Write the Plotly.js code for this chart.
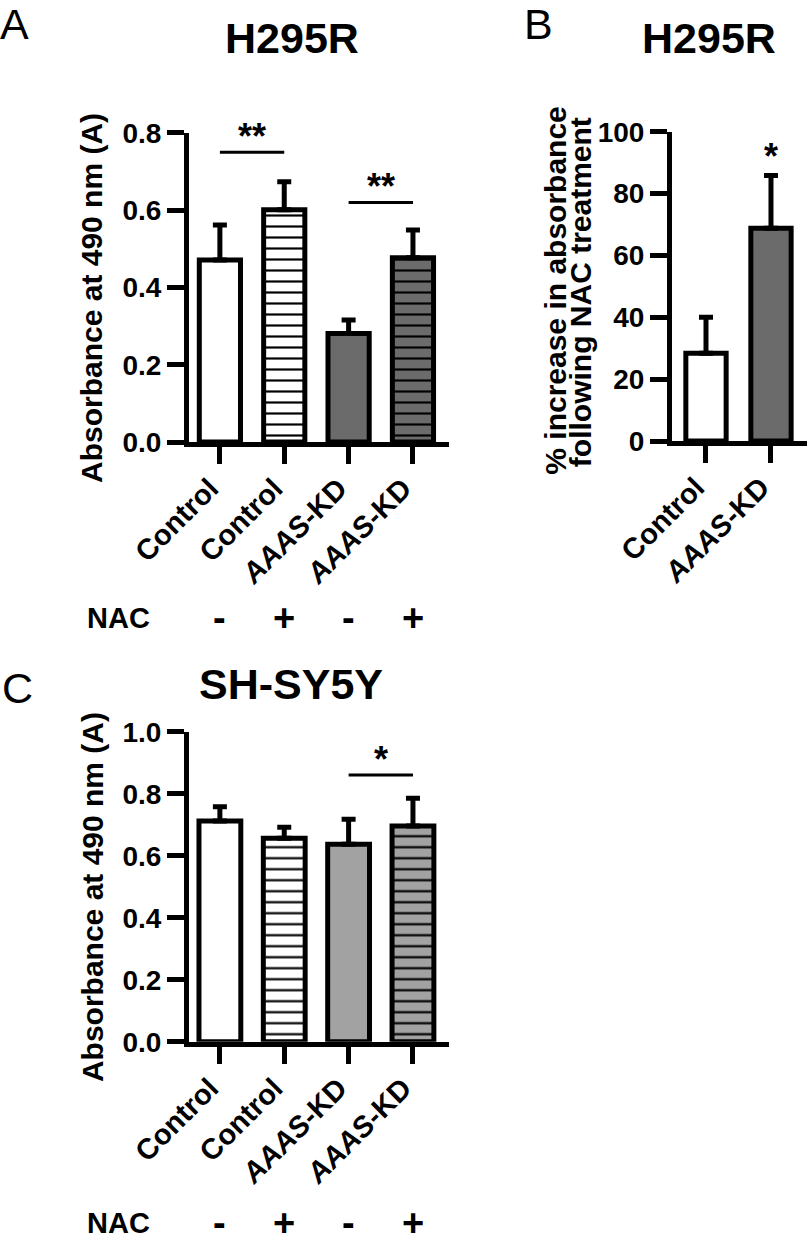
<!DOCTYPE html>
<html><head><meta charset="utf-8">
<script src="https://cdn.plot.ly/plotly-3.0.1.min.js"></script>
<style>html,body{margin:0;padding:0;background:#fff}</style>
</head><body><div id="chart" style="width:810px;height:1252px"></div>
<script>
// ---- data ----
const groups4 = ['Control', 'Control', '<i>AAAS</i>-KD', '<i>AAAS</i>-KD'];
const nacSigns = ['-', '+', '-', '+'];
const groups2 = ['Control', '<i>AAAS</i>-KD'];

const meanA = [0.471, 0.601, 0.281, 0.477];
const errA  = [0.091, 0.073, 0.035, 0.072];

const meanB = [28.4, 68.8];
const errB  = [11.6, 17.0];

const meanC = [0.712, 0.656, 0.637, 0.696];
const errC  = [0.046, 0.036, 0.081, 0.089];

const sigA = [{from: 0, to: 1, y: 0.75, text: '**'}, {from: 2, to: 3, y: 0.62, text: '**'}];
const sigB = [{at: 1, text: '*'}];
const sigC = [{from: 2, to: 3, y: 0.86, text: '*'}];

// ---- styles ----
const DARK_A = '#6b6b6b';
const GRAY_C = '#a2a2a2';
const FONT = 'Liberation Sans, Arial, sans-serif';
const fillsA = ['#ffffff', '#ffffff', DARK_A, DARK_A];
const fillsB = ['#ffffff', DARK_A];
const fillsC = ['#ffffff', '#ffffff', GRAY_C, GRAY_C];
const stripes4 = [false, true, false, true];
const stripes2 = [false, false];

function barTraces(y, err, fills, stripes, xa, ya, w) {
  return y.map((v, i) => {
    const t = {
      type: 'bar', x: [i], y: [v], width: w, xaxis: xa, yaxis: ya,
      marker: {color: fills[i], line: {color: '#000', width: 5}},
      error_y: {type: 'data', symmetric: false, array: [err[i]], arrayminus: [0],
                color: '#000', thickness: 5, width: 7},
      hoverinfo: 'skip', showlegend: false
    };
    if (stripes[i]) {
      t.marker.pattern = {shape: '-', fgcolor: '#000000', bgcolor: fills[i], size: 11,
                          solidity: 0.2, fillmode: 'replace'};
    }
    return t;
  });
}

const traces = [].concat(
  barTraces(meanA, errA, fillsA, stripes4, 'x', 'y', 0.64),
  barTraces(meanB, errB, fillsB, stripes2, 'x2', 'y2', 0.62),
  barTraces(meanC, errC, fillsC, stripes4, 'x3', 'y3', 0.65)
);

const tickFont = {family: FONT, size: 29, weight: 'bold', color: '#000'};
const titleAxFont = {family: FONT, size: 30, weight: 'bold', color: '#000'};

function bold(s) { return '<b>' + s + '</b>'; }

function xax(domain, range, vals, text, anchor) {
  return {domain: domain, range: range, anchor: anchor, tickvals: vals, ticktext: text.map(bold), tickangle: -45,
    ticks: 'outside', ticklen: 17, tickwidth: 5, tickcolor: '#000',
    ticklabelshift: -10, ticklabelstandoff: -4,
    showline: true, linewidth: 5, linecolor: '#000', showgrid: false, zeroline: false, fixedrange: true,
    tickfont: tickFont};
}
function yax(domain, range, dtick, fmt, anchor) {
  return {domain: domain, range: range, anchor: anchor, dtick: dtick, tick0: 0, tickformat: fmt,
    ticks: 'outside', ticklen: 17, tickwidth: 5, tickcolor: '#000',
    showline: true, linewidth: 5, linecolor: '#000', showgrid: false, zeroline: false, fixedrange: true,
    tickfont: {family: FONT, size: 28, weight: 'bold', color: '#000'}};
}

const starFont = {family: FONT, size: 36, weight: 'bold', color: '#000'};
const shapes = [];
const annotations = [];
function addSig(list, xa, ya) {
  list.forEach(s => {
    shapes.push({type: 'line', xref: xa, yref: ya, x0: s.from, x1: s.to, y0: s.y, y1: s.y,
                 line: {color: '#000', width: 3}});
    annotations.push({xref: xa, yref: ya, x: (s.from + s.to) / 2, y: s.y, text: bold(s.text), showarrow: false,
                      yanchor: 'middle', yshift: 16, font: starFont});
  });
}
addSig(sigA, 'x', 'y');
addSig(sigC, 'x3', 'y3');
sigB.forEach(s => {
  annotations.push({xref: 'x2', yref: 'y2', x: s.at, y: meanB[s.at] + errB[s.at], text: bold(s.text), showarrow: false,
                    yanchor: 'middle', yshift: 19, font: starFont});
});

function txt(x, y, text, font, extra) {
  return Object.assign({xref: 'paper', yref: 'paper', x: x, y: y, text: text, showarrow: false,
    xanchor: 'center', yanchor: 'middle', font: font}, extra || {});
}
const letterFont = {family: FONT, size: 43, color: '#000'};
const titleFont = {family: FONT, size: 43, weight: 'bold', color: '#000'};

annotations.push(
  txt(0.0185, 0.9808, 'A', letterFont),
  txt(0.6642, 0.9808, 'B', letterFont),
  txt(0.021, 0.4505, 'C', letterFont),
  txt(0.3599, 0.9697, bold('H295R'), titleFont),
  txt(0.8747, 0.9697, bold('H295R'), titleFont),
  txt(0.3593, 0.4533, bold('SH-SY5Y'), titleFont),
  txt(0.1136, 0.762, bold('Absorbance at 490 nm (A)'), titleAxFont, {textangle: -90}),
  txt(0.1136, 0.2835, bold('Absorbance at 490 nm (A)'), titleAxFont, {textangle: -90}),
  txt(0.6855, 0.768, bold('% increase in absorbance'), titleAxFont, {textangle: -90}),
  txt(0.7175, 0.7668, bold('following NAC treatment'), titleAxFont, {textangle: -90}),
  txt(0.1877, 0.5064, bold('NAC'), tickFont, {xanchor: 'right'}),
  txt(0.1877, 0.02316, bold('NAC'), tickFont, {xanchor: 'right'})
);
const signFont = {family: FONT, size: 38, weight: 'bold', color: '#000'};
nacSigns.forEach((s, i) => {
  annotations.push({xref: 'x', yref: 'paper', x: i, y: 0.5064, text: bold(s), showarrow: false,
                    xanchor: 'center', yanchor: 'middle', font: signFont});
  annotations.push({xref: 'x3', yref: 'paper', x: i, y: 0.02316, text: bold(s), showarrow: false,
                    xanchor: 'center', yanchor: 'middle', font: signFont});
});

const layout = {
  width: 810, height: 1252, margin: {l: 0, r: 0, t: 0, b: 0},
  paper_bgcolor: '#fff', plot_bgcolor: 'rgba(0,0,0,0)', showlegend: false, bargap: 0, barmode: 'overlay',
  xaxis: xax([0.23333, 0.55432], [-0.48, 3.56], groups4.map((_, i) => i), groups4, 'y'),
  yaxis: yax([0.64696, 0.89377], [0, 0.8], 0.2, '.1f', 'x'),
  xaxis2: xax([0.82963, 0.9963], [-0.523, 1.554], groups2.map((_, i) => i), groups2, 'y2'),
  yaxis2: yax([0.64776, 0.89481], [0, 100], 20, 'd', 'x2'),
  xaxis3: xax([0.23333, 0.55432], [-0.48, 3.56], groups4.map((_, i) => i), groups4, 'y3'),
  yaxis3: yax([0.16797, 0.41557], [0, 1.0], 0.2, '.1f', 'x3'),
  shapes: shapes, annotations: annotations
};

Plotly.newPlot('chart', traces, layout, {displayModeBar: false, staticPlot: true});
</script></body></html>
